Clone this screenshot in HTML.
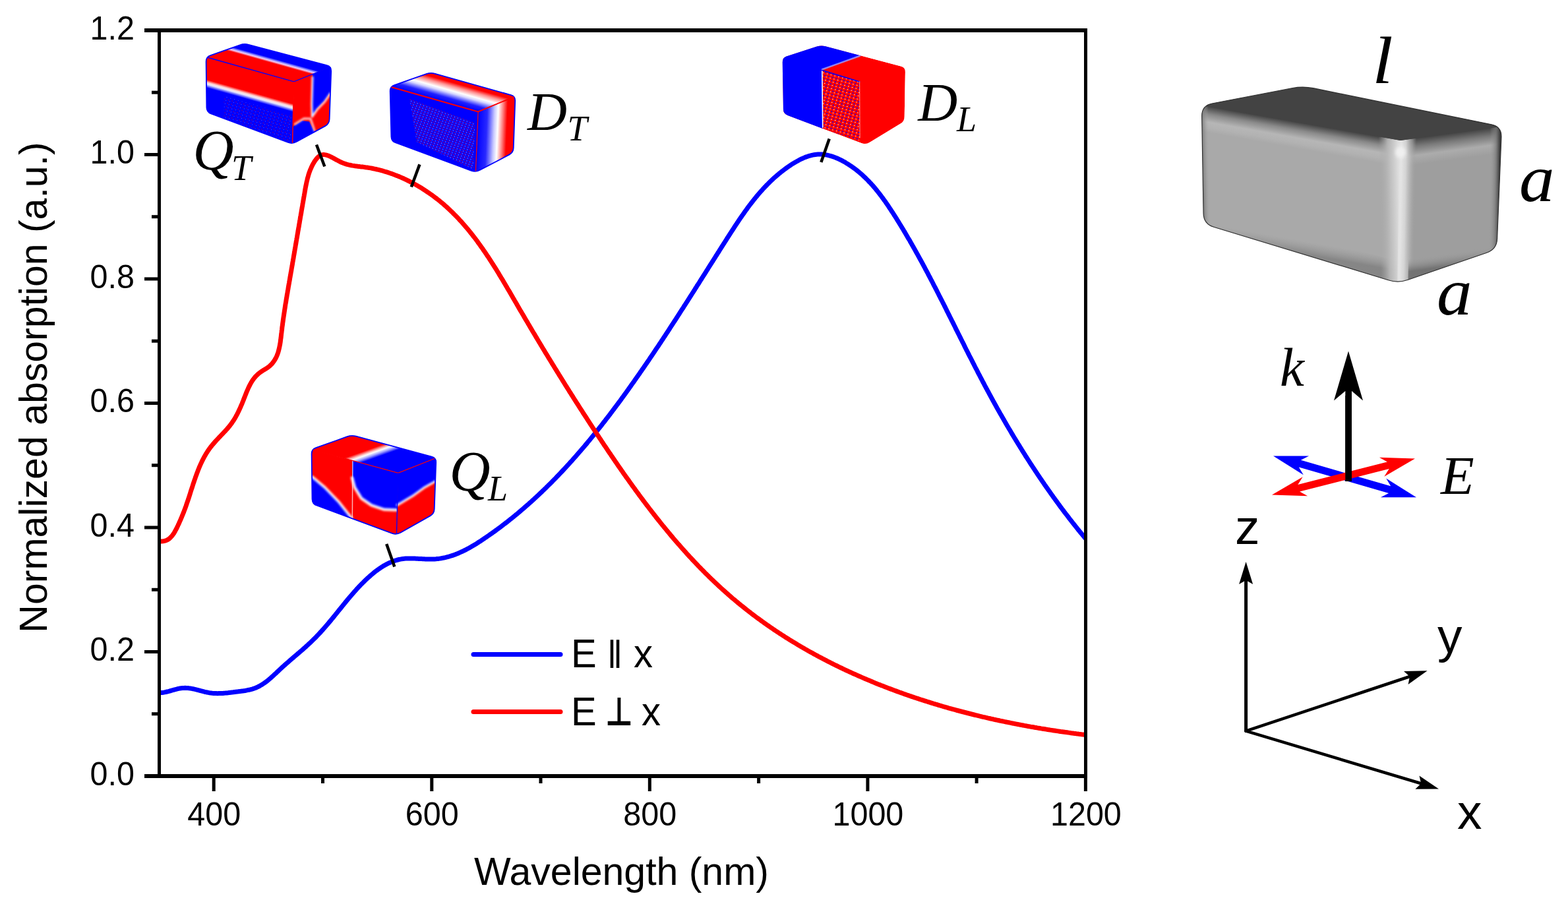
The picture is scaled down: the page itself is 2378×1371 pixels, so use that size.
<!DOCTYPE html>
<html><head><meta charset="utf-8"><title>Absorption spectra</title>
<style>html,body{margin:0;padding:0;background:#fff;width:2378px;height:1371px;overflow:hidden}svg{display:block}</style>
</head><body>
<svg width="2378" height="1371" viewBox="0 0 2378 1371">
<rect width="2378" height="1371" fill="#fff"/>
<defs>
<pattern id="spR" width="6" height="5" patternUnits="userSpaceOnUse" patternTransform="rotate(15)">
<rect width="6" height="5" fill="#f00"/><rect x="1" y="1" width="2" height="1.5" fill="#00f"/><rect x="4" y="3" width="1.5" height="1" fill="#fff"/></pattern>
<pattern id="spB" width="6" height="5" patternUnits="userSpaceOnUse" patternTransform="rotate(15)">
<rect width="6" height="5" fill="#00f"/><rect x="1" y="1" width="2" height="1.5" fill="#f00"/><rect x="4" y="3" width="1" height="1" fill="#fff"/></pattern>
<pattern id="spB3" width="5" height="4" patternUnits="userSpaceOnUse" patternTransform="rotate(20)">
<rect width="5" height="4" fill="#00f"/><rect x="0.5" y="0.5" width="2" height="1.2" fill="#f00"/><rect x="3" y="2.5" width="1.2" height="1" fill="#fff"/></pattern>
<pattern id="spB2" width="7" height="6" patternUnits="userSpaceOnUse" patternTransform="rotate(15)">
<rect width="7" height="6" fill="#00f"/><rect x="2" y="2" width="1" height="1" fill="#fff"/></pattern>
</defs>
<path d="M241.6,1050.6 L243.6,1050.6 L245.6,1050.4 L247.6,1050.2 L249.6,1049.9 L251.5,1049.5 L253.5,1049.0 L255.4,1048.6 L257.4,1048.0 L259.3,1047.5 L261.2,1046.9 L263.1,1046.4 L265.0,1045.8 L267.0,1045.3 L268.9,1044.8 L270.9,1044.4 L272.8,1044.0 L274.8,1043.7 L276.8,1043.5 L278.8,1043.4 L280.8,1043.3 L282.8,1043.4 L284.8,1043.5 L286.8,1043.8 L288.7,1044.0 L290.7,1044.4 L292.7,1044.8 L294.6,1045.2 L296.6,1045.6 L298.5,1046.1 L300.4,1046.6 L302.4,1047.1 L304.3,1047.7 L306.2,1048.2 L308.2,1048.7 L310.1,1049.2 L312.1,1049.6 L314.0,1050.0 L316.0,1050.4 L317.9,1050.8 L319.9,1051.1 L321.9,1051.3 L323.9,1051.4 L325.9,1051.6 L327.9,1051.6 L329.9,1051.7 L331.9,1051.6 L333.9,1051.6 L335.9,1051.5 L337.9,1051.4 L339.9,1051.2 L341.9,1051.1 L343.8,1050.9 L345.8,1050.7 L347.8,1050.4 L349.8,1050.2 L351.8,1050.0 L353.8,1049.8 L355.8,1049.5 L357.7,1049.3 L359.7,1049.1 L361.7,1048.8 L363.7,1048.6 L365.7,1048.3 L367.7,1048.1 L369.6,1047.8 L371.6,1047.5 L373.6,1047.1 L375.5,1046.7 L377.5,1046.3 L379.4,1045.8 L381.4,1045.3 L383.3,1044.8 L385.2,1044.1 L387.1,1043.5 L388.9,1042.7 L390.7,1041.9 L392.5,1041.0 L394.3,1040.1 L396.0,1039.1 L397.7,1038.0 L399.4,1036.9 L401.1,1035.8 L402.7,1034.6 L404.3,1033.4 L405.8,1032.2 L407.4,1030.9 L408.9,1029.6 L410.4,1028.3 L411.9,1027.0 L413.4,1025.6 L414.9,1024.3 L416.3,1022.9 L417.8,1021.6 L419.3,1020.2 L420.7,1018.8 L422.2,1017.5 L423.6,1016.1 L425.1,1014.7 L426.6,1013.4 L428.0,1012.0 L429.5,1010.7 L431.0,1009.3 L432.5,1008.0 L434.0,1006.7 L435.5,1005.4 L437.0,1004.1 L438.5,1002.7 L440.0,1001.4 L441.5,1000.1 L443.0,998.8 L444.6,997.5 L446.1,996.2 L447.6,994.9 L449.1,993.6 L450.6,992.3 L452.1,991.0 L453.7,989.7 L455.2,988.4 L456.7,987.1 L458.2,985.8 L459.7,984.5 L461.2,983.1 L462.7,981.8 L464.2,980.5 L465.6,979.1 L467.1,977.8 L468.6,976.4 L470.1,975.1 L471.5,973.7 L473.0,972.3 L474.4,970.9 L475.8,969.5 L477.2,968.1 L478.7,966.7 L480.1,965.3 L481.4,963.8 L482.8,962.4 L484.2,960.9 L485.5,959.5 L486.9,958.0 L488.2,956.5 L489.6,955.0 L490.9,953.5 L492.2,952.0 L493.5,950.5 L494.8,949.0 L496.1,947.5 L497.4,946.0 L498.7,944.4 L500.0,942.9 L501.3,941.4 L502.5,939.8 L503.8,938.3 L505.1,936.7 L506.3,935.2 L507.6,933.6 L508.8,932.1 L510.1,930.5 L511.4,929.0 L512.6,927.4 L513.9,925.8 L515.1,924.3 L516.4,922.7 L517.6,921.2 L518.9,919.6 L520.1,918.1 L521.4,916.5 L522.7,915.0 L523.9,913.4 L525.2,911.9 L526.5,910.3 L527.7,908.8 L529.0,907.3 L530.3,905.7 L531.6,904.2 L532.9,902.7 L534.2,901.2 L535.5,899.7 L536.8,898.2 L538.2,896.7 L539.5,895.2 L540.8,893.7 L542.2,892.2 L543.5,890.7 L544.9,889.3 L546.3,887.8 L547.7,886.4 L549.1,885.0 L550.5,883.6 L551.9,882.2 L553.3,880.8 L554.8,879.4 L556.2,878.0 L557.7,876.6 L559.2,875.3 L560.7,874.0 L562.2,872.7 L563.7,871.4 L565.2,870.1 L566.8,868.8 L568.3,867.6 L569.9,866.3 L571.5,865.1 L573.1,864.0 L574.7,862.8 L576.4,861.7 L578.1,860.5 L579.7,859.5 L581.4,858.4 L583.2,857.4 L584.9,856.4 L586.7,855.5 L588.4,854.6 L590.2,853.7 L592.1,852.9 L593.9,852.1 L595.8,851.4 L597.7,850.7 L599.6,850.1 L601.5,849.5 L603.4,849.0 L605.3,848.5 L607.3,848.1 L609.3,847.8 L611.2,847.5 L613.2,847.3 L615.2,847.1 L617.2,847.0 L619.2,846.9 L621.2,846.9 L623.2,846.9 L625.2,847.0 L627.2,847.0 L629.2,847.1 L631.2,847.2 L633.2,847.3 L635.2,847.4 L637.2,847.5 L639.2,847.6 L641.2,847.7 L643.2,847.8 L645.2,847.9 L647.2,848.0 L649.2,848.1 L651.2,848.1 L653.2,848.1 L655.2,848.1 L657.2,848.0 L659.2,847.9 L661.2,847.8 L663.1,847.6 L665.1,847.4 L667.1,847.1 L669.1,846.8 L671.1,846.4 L673.0,846.0 L675.0,845.6 L676.9,845.1 L678.8,844.6 L680.8,844.1 L682.7,843.5 L684.6,842.9 L686.5,842.3 L688.4,841.7 L690.3,841.0 L692.1,840.2 L694.0,839.5 L695.8,838.7 L697.6,837.9 L699.5,837.1 L701.3,836.3 L703.1,835.4 L704.9,834.5 L706.7,833.6 L708.4,832.7 L710.2,831.7 L711.9,830.8 L713.7,829.8 L715.4,828.8 L717.1,827.8 L718.9,826.7 L720.6,825.7 L722.3,824.7 L724.0,823.6 L725.6,822.5 L727.3,821.4 L729.0,820.4 L730.7,819.3 L732.3,818.1 L734.0,817.0 L735.6,815.9 L737.3,814.8 L738.9,813.7 L740.6,812.5 L742.2,811.4 L743.9,810.2 L745.5,809.1 L747.1,807.9 L748.8,806.8 L750.4,805.6 L752.0,804.4 L753.6,803.2 L755.2,802.0 L756.8,800.9 L758.4,799.7 L760.0,798.5 L761.6,797.3 L763.2,796.0 L764.8,794.8 L766.4,793.6 L768.0,792.4 L769.5,791.2 L771.1,789.9 L772.7,788.7 L774.2,787.4 L775.8,786.2 L777.4,784.9 L778.9,783.7 L780.5,782.4 L782.0,781.1 L783.5,779.9 L785.1,778.6 L786.6,777.3 L788.1,776.0 L789.7,774.7 L791.2,773.4 L792.7,772.1 L794.2,770.8 L795.7,769.5 L797.2,768.2 L798.7,766.9 L800.2,765.6 L801.7,764.3 L803.2,762.9 L804.7,761.6 L806.2,760.3 L807.7,758.9 L809.2,757.6 L810.6,756.2 L812.1,754.9 L813.6,753.5 L815.0,752.1 L816.5,750.8 L818.0,749.4 L819.4,748.0 L820.9,746.7 L822.3,745.3 L823.7,743.9 L825.2,742.5 L826.6,741.1 L828.1,739.7 L829.5,738.3 L830.9,736.9 L832.3,735.5 L833.7,734.1 L835.2,732.7 L836.6,731.3 L838.0,729.8 L839.4,728.4 L840.8,727.0 L842.2,725.6 L843.6,724.1 L844.9,722.7 L846.3,721.3 L847.7,719.8 L849.1,718.4 L850.5,716.9 L851.8,715.5 L853.2,714.0 L854.6,712.5 L855.9,711.1 L857.3,709.6 L858.7,708.1 L860.0,706.7 L861.4,705.2 L862.7,703.7 L864.0,702.2 L865.4,700.8 L866.7,699.3 L868.1,697.8 L869.4,696.3 L870.7,694.8 L872.0,693.3 L873.4,691.8 L874.7,690.3 L876.0,688.8 L877.3,687.3 L878.6,685.8 L879.9,684.3 L881.2,682.7 L882.5,681.2 L883.8,679.7 L885.1,678.2 L886.4,676.7 L887.7,675.1 L889.0,673.6 L890.3,672.1 L891.5,670.5 L892.8,669.0 L894.1,667.5 L895.4,665.9 L896.6,664.4 L897.9,662.8 L899.2,661.3 L900.4,659.7 L901.7,658.2 L902.9,656.6 L904.2,655.1 L905.4,653.5 L906.7,651.9 L907.9,650.4 L909.2,648.8 L910.4,647.2 L911.7,645.7 L912.9,644.1 L914.1,642.5 L915.3,640.9 L916.6,639.4 L917.8,637.8 L919.0,636.2 L920.2,634.6 L921.5,633.0 L922.7,631.5 L923.9,629.9 L925.1,628.3 L926.3,626.7 L927.5,625.1 L928.7,623.5 L929.9,621.9 L931.1,620.3 L932.3,618.7 L933.5,617.1 L934.7,615.5 L935.9,613.9 L937.1,612.3 L938.3,610.7 L939.5,609.1 L940.7,607.5 L941.8,605.9 L943.0,604.2 L944.2,602.6 L945.4,601.0 L946.5,599.4 L947.7,597.8 L948.9,596.2 L950.1,594.5 L951.2,592.9 L952.4,591.3 L953.6,589.7 L954.7,588.0 L955.9,586.4 L957.0,584.8 L958.2,583.1 L959.3,581.5 L960.5,579.9 L961.7,578.2 L962.8,576.6 L963.9,575.0 L965.1,573.3 L966.2,571.7 L967.4,570.1 L968.5,568.4 L969.7,566.8 L970.8,565.1 L971.9,563.5 L973.1,561.9 L974.2,560.2 L975.4,558.6 L976.5,556.9 L977.6,555.3 L978.7,553.6 L979.9,552.0 L981.0,550.3 L982.1,548.7 L983.3,547.0 L984.4,545.4 L985.5,543.7 L986.6,542.1 L987.7,540.4 L988.9,538.7 L990.0,537.1 L991.1,535.4 L992.2,533.8 L993.3,532.1 L994.4,530.4 L995.5,528.8 L996.6,527.1 L997.8,525.5 L998.9,523.8 L1000.0,522.1 L1001.1,520.5 L1002.2,518.8 L1003.3,517.1 L1004.4,515.5 L1005.5,513.8 L1006.6,512.1 L1007.7,510.5 L1008.8,508.8 L1009.9,507.1 L1011.0,505.4 L1012.1,503.8 L1013.2,502.1 L1014.3,500.4 L1015.4,498.8 L1016.4,497.1 L1017.5,495.4 L1018.6,493.7 L1019.7,492.1 L1020.8,490.4 L1021.9,488.7 L1023.0,487.0 L1024.1,485.3 L1025.2,483.7 L1026.2,482.0 L1027.3,480.3 L1028.4,478.6 L1029.5,476.9 L1030.6,475.3 L1031.6,473.6 L1032.7,471.9 L1033.8,470.2 L1034.9,468.5 L1036.0,466.9 L1037.0,465.2 L1038.1,463.5 L1039.2,461.8 L1040.3,460.1 L1041.4,458.4 L1042.4,456.8 L1043.5,455.1 L1044.6,453.4 L1045.7,451.7 L1046.7,450.0 L1047.8,448.3 L1048.9,446.6 L1049.9,445.0 L1051.0,443.3 L1052.1,441.6 L1053.2,439.9 L1054.2,438.2 L1055.3,436.5 L1056.4,434.8 L1057.4,433.1 L1058.5,431.5 L1059.6,429.8 L1060.7,428.1 L1061.7,426.4 L1062.8,424.7 L1063.9,423.0 L1064.9,421.3 L1066.0,419.6 L1067.1,417.9 L1068.1,416.3 L1069.2,414.6 L1070.3,412.9 L1071.3,411.2 L1072.4,409.5 L1073.5,407.8 L1074.5,406.1 L1075.6,404.4 L1076.7,402.7 L1077.7,401.0 L1078.8,399.4 L1079.9,397.7 L1081.0,396.0 L1082.0,394.3 L1083.1,392.6 L1084.2,390.9 L1085.2,389.2 L1086.3,387.5 L1087.4,385.8 L1088.4,384.2 L1089.5,382.5 L1090.6,380.8 L1091.6,379.1 L1092.7,377.4 L1093.8,375.7 L1094.8,374.0 L1095.9,372.3 L1097.0,370.6 L1098.1,369.0 L1099.1,367.3 L1100.2,365.6 L1101.3,363.9 L1102.3,362.2 L1103.4,360.5 L1104.5,358.8 L1105.6,357.2 L1106.6,355.5 L1107.7,353.8 L1108.8,352.1 L1109.9,350.4 L1111.0,348.8 L1112.1,347.1 L1113.2,345.4 L1114.3,343.7 L1115.3,342.1 L1116.4,340.4 L1117.6,338.7 L1118.7,337.1 L1119.8,335.4 L1120.9,333.7 L1122.0,332.1 L1123.1,330.4 L1124.3,328.8 L1125.4,327.1 L1126.6,325.5 L1127.7,323.9 L1128.9,322.2 L1130.0,320.6 L1131.2,319.0 L1132.4,317.4 L1133.5,315.8 L1134.7,314.1 L1135.9,312.5 L1137.1,310.9 L1138.3,309.4 L1139.5,307.8 L1140.8,306.2 L1142.0,304.6 L1143.2,303.1 L1144.5,301.5 L1145.8,299.9 L1147.0,298.4 L1148.3,296.9 L1149.6,295.3 L1150.9,293.8 L1152.2,292.3 L1153.5,290.8 L1154.8,289.3 L1156.2,287.8 L1157.5,286.3 L1158.9,284.9 L1160.2,283.4 L1161.6,282.0 L1163.0,280.5 L1164.4,279.1 L1165.8,277.7 L1167.2,276.3 L1168.7,274.9 L1170.1,273.5 L1171.6,272.1 L1173.0,270.8 L1174.5,269.4 L1176.0,268.1 L1177.5,266.8 L1179.0,265.5 L1180.6,264.2 L1182.1,262.9 L1183.7,261.7 L1185.2,260.4 L1186.8,259.2 L1188.4,258.0 L1190.0,256.8 L1191.6,255.6 L1193.2,254.4 L1194.9,253.3 L1196.5,252.1 L1198.2,251.0 L1199.8,249.9 L1201.5,248.8 L1203.2,247.8 L1204.9,246.7 L1206.6,245.7 L1208.4,244.7 L1210.1,243.8 L1211.9,242.8 L1213.6,241.9 L1215.4,241.0 L1217.3,240.2 L1219.1,239.4 L1220.9,238.6 L1222.8,237.9 L1224.7,237.3 L1226.6,236.6 L1228.5,236.1 L1230.4,235.6 L1232.4,235.1 L1234.4,234.8 L1236.3,234.5 L1238.3,234.2 L1240.3,234.1 L1242.3,234.0 L1244.3,234.0 L1246.3,234.1 L1248.3,234.2 L1250.3,234.5 L1252.3,234.8 L1254.2,235.1 L1256.2,235.6 L1258.1,236.1 L1260.0,236.6 L1261.9,237.2 L1263.8,237.8 L1265.7,238.5 L1267.6,239.2 L1269.4,240.0 L1271.3,240.8 L1273.1,241.7 L1274.9,242.5 L1276.6,243.4 L1278.4,244.4 L1280.2,245.3 L1281.9,246.3 L1283.6,247.4 L1285.3,248.4 L1287.0,249.5 L1288.7,250.6 L1290.3,251.7 L1292.0,252.8 L1293.6,254.0 L1295.2,255.1 L1296.8,256.3 L1298.4,257.5 L1300.0,258.8 L1301.5,260.0 L1303.1,261.3 L1304.6,262.6 L1306.1,263.9 L1307.6,265.2 L1309.1,266.6 L1310.5,268.0 L1312.0,269.3 L1313.4,270.7 L1314.8,272.1 L1316.3,273.6 L1317.6,275.0 L1319.0,276.5 L1320.4,277.9 L1321.7,279.4 L1323.1,280.9 L1324.4,282.4 L1325.7,283.9 L1327.0,285.4 L1328.3,287.0 L1329.5,288.5 L1330.8,290.1 L1332.0,291.6 L1333.3,293.2 L1334.5,294.8 L1335.7,296.4 L1336.9,298.0 L1338.1,299.6 L1339.3,301.2 L1340.4,302.8 L1341.6,304.4 L1342.8,306.0 L1343.9,307.7 L1345.0,309.3 L1346.2,311.0 L1347.3,312.6 L1348.4,314.3 L1349.5,316.0 L1350.6,317.6 L1351.7,319.3 L1352.8,321.0 L1353.9,322.6 L1355.0,324.3 L1356.0,326.0 L1357.1,327.7 L1358.2,329.4 L1359.3,331.1 L1360.3,332.8 L1361.4,334.5 L1362.4,336.2 L1363.5,337.9 L1364.5,339.6 L1365.6,341.3 L1366.6,343.0 L1367.6,344.7 L1368.7,346.4 L1369.7,348.1 L1370.7,349.8 L1371.8,351.5 L1372.8,353.3 L1373.8,355.0 L1374.8,356.7 L1375.8,358.4 L1376.8,360.2 L1377.8,361.9 L1378.9,363.6 L1379.9,365.3 L1380.8,367.1 L1381.8,368.8 L1382.8,370.5 L1383.8,372.3 L1384.8,374.0 L1385.8,375.8 L1386.8,377.5 L1387.8,379.2 L1388.7,381.0 L1389.7,382.7 L1390.7,384.5 L1391.7,386.2 L1392.6,388.0 L1393.6,389.7 L1394.5,391.5 L1395.5,393.2 L1396.5,395.0 L1397.4,396.7 L1398.4,398.5 L1399.3,400.2 L1400.3,402.0 L1401.2,403.8 L1402.2,405.5 L1403.1,407.3 L1404.0,409.1 L1405.0,410.8 L1405.9,412.6 L1406.9,414.3 L1407.8,416.1 L1408.7,417.9 L1409.7,419.7 L1410.6,421.4 L1411.5,423.2 L1412.4,425.0 L1413.4,426.7 L1414.3,428.5 L1415.2,430.3 L1416.1,432.1 L1417.0,433.8 L1418.0,435.6 L1418.9,437.4 L1419.8,439.2 L1420.7,440.9 L1421.6,442.7 L1422.5,444.5 L1423.4,446.3 L1424.3,448.1 L1425.2,449.8 L1426.1,451.6 L1427.0,453.4 L1428.0,455.2 L1428.9,457.0 L1429.8,458.8 L1430.7,460.5 L1431.6,462.3 L1432.5,464.1 L1433.4,465.9 L1434.3,467.7 L1435.2,469.5 L1436.0,471.3 L1436.9,473.0 L1437.8,474.8 L1438.7,476.6 L1439.6,478.4 L1440.5,480.2 L1441.4,482.0 L1442.3,483.8 L1443.2,485.6 L1444.1,487.3 L1445.0,489.1 L1445.9,490.9 L1446.8,492.7 L1447.7,494.5 L1448.6,496.3 L1449.4,498.1 L1450.3,499.9 L1451.2,501.7 L1452.1,503.4 L1453.0,505.2 L1453.9,507.0 L1454.8,508.8 L1455.7,510.6 L1456.6,512.4 L1457.5,514.2 L1458.4,516.0 L1459.3,517.8 L1460.2,519.5 L1461.1,521.3 L1462.0,523.1 L1462.8,524.9 L1463.7,526.7 L1464.6,528.5 L1465.5,530.3 L1466.4,532.0 L1467.3,533.8 L1468.2,535.6 L1469.1,537.4 L1470.0,539.2 L1470.9,541.0 L1471.9,542.7 L1472.8,544.5 L1473.7,546.3 L1474.6,548.1 L1475.5,549.9 L1476.4,551.7 L1477.3,553.4 L1478.2,555.2 L1479.1,557.0 L1480.0,558.8 L1481.0,560.5 L1481.9,562.3 L1482.8,564.1 L1483.7,565.9 L1484.6,567.6 L1485.6,569.4 L1486.5,571.2 L1487.4,573.0 L1488.3,574.7 L1489.3,576.5 L1490.2,578.3 L1491.1,580.0 L1492.1,581.8 L1493.0,583.6 L1493.9,585.3 L1494.9,587.1 L1495.8,588.9 L1496.8,590.6 L1497.7,592.4 L1498.7,594.1 L1499.6,595.9 L1500.6,597.7 L1501.5,599.4 L1502.5,601.2 L1503.4,602.9 L1504.4,604.7 L1505.3,606.4 L1506.3,608.2 L1507.3,609.9 L1508.2,611.7 L1509.2,613.4 L1510.2,615.2 L1511.1,616.9 L1512.1,618.7 L1513.1,620.4 L1514.1,622.2 L1515.1,623.9 L1516.0,625.6 L1517.0,627.4 L1518.0,629.1 L1519.0,630.8 L1520.0,632.6 L1521.0,634.3 L1522.0,636.0 L1523.0,637.8 L1524.0,639.5 L1525.0,641.2 L1526.0,643.0 L1527.0,644.7 L1528.0,646.4 L1529.0,648.1 L1530.0,649.9 L1531.1,651.6 L1532.1,653.3 L1533.1,655.0 L1534.1,656.7 L1535.1,658.5 L1536.2,660.2 L1537.2,661.9 L1538.2,663.6 L1539.3,665.3 L1540.3,667.0 L1541.3,668.7 L1542.4,670.4 L1543.4,672.1 L1544.5,673.8 L1545.5,675.5 L1546.6,677.2 L1547.6,678.9 L1548.7,680.6 L1549.7,682.3 L1550.8,684.0 L1551.8,685.7 L1552.9,687.4 L1554.0,689.1 L1555.0,690.8 L1556.1,692.5 L1557.2,694.2 L1558.3,695.9 L1559.3,697.5 L1560.4,699.2 L1561.5,700.9 L1562.6,702.6 L1563.7,704.3 L1564.8,705.9 L1565.9,707.6 L1567.0,709.3 L1568.1,710.9 L1569.2,712.6 L1570.3,714.3 L1571.4,715.9 L1572.5,717.6 L1573.6,719.3 L1574.7,720.9 L1575.8,722.6 L1576.9,724.2 L1578.1,725.9 L1579.2,727.6 L1580.3,729.2 L1581.4,730.9 L1582.6,732.5 L1583.7,734.2 L1584.8,735.8 L1586.0,737.4 L1587.1,739.1 L1588.3,740.7 L1589.4,742.4 L1590.6,744.0 L1591.7,745.6 L1592.9,747.3 L1594.0,748.9 L1595.2,750.5 L1596.3,752.1 L1597.5,753.8 L1598.7,755.4 L1599.9,757.0 L1601.0,758.6 L1602.2,760.2 L1603.4,761.8 L1604.6,763.5 L1605.8,765.1 L1606.9,766.7 L1608.1,768.3 L1609.3,769.9 L1610.5,771.5 L1611.7,773.1 L1612.9,774.7 L1614.1,776.3 L1615.3,777.9 L1616.5,779.5 L1617.8,781.0 L1619.0,782.6 L1620.2,784.2 L1621.4,785.8 L1622.6,787.4 L1623.9,789.0 L1625.1,790.5 L1626.3,792.1 L1627.6,793.7 L1628.8,795.2 L1630.0,796.8 L1631.3,798.4 L1632.5,799.9 L1633.8,801.5 L1635.0,803.1 L1636.3,804.6 L1637.6,806.2 L1638.8,807.7 L1640.1,809.3 L1641.4,810.8 L1642.6,812.3 L1643.9,813.9 L1645.2,815.4 L1646.5,817.0" fill="none" stroke="#00f" stroke-width="7" stroke-linejoin="round"/>
<path d="M241.5,820.7 L243.5,820.9 L245.5,820.9 L247.5,820.8 L249.5,820.4 L251.4,819.9 L253.2,819.1 L255.0,818.1 L256.6,817.0 L258.1,815.7 L259.5,814.2 L260.8,812.7 L262.1,811.1 L263.2,809.5 L264.3,807.8 L265.3,806.1 L266.2,804.3 L267.2,802.6 L268.1,800.8 L268.9,799.0 L269.8,797.2 L270.6,795.4 L271.5,793.5 L272.3,791.7 L273.1,789.9 L273.9,788.1 L274.7,786.2 L275.5,784.4 L276.2,782.5 L277.0,780.7 L277.7,778.8 L278.5,777.0 L279.2,775.1 L279.9,773.2 L280.6,771.4 L281.3,769.5 L282.0,767.6 L282.6,765.7 L283.3,763.8 L283.9,761.9 L284.6,760.1 L285.2,758.2 L285.9,756.3 L286.5,754.4 L287.1,752.5 L287.7,750.6 L288.3,748.7 L288.9,746.8 L289.5,744.8 L290.1,742.9 L290.8,741.0 L291.4,739.1 L292.0,737.2 L292.6,735.3 L293.2,733.4 L293.9,731.5 L294.5,729.6 L295.1,727.7 L295.8,725.9 L296.4,724.0 L297.1,722.1 L297.8,720.2 L298.5,718.3 L299.2,716.5 L299.9,714.6 L300.6,712.7 L301.4,710.9 L302.1,709.0 L302.9,707.2 L303.7,705.4 L304.5,703.5 L305.4,701.7 L306.2,699.9 L307.1,698.1 L308.0,696.3 L308.9,694.6 L309.9,692.8 L310.9,691.1 L311.9,689.3 L312.9,687.6 L314.0,685.9 L315.0,684.2 L316.2,682.6 L317.3,680.9 L318.5,679.3 L319.7,677.7 L320.9,676.2 L322.2,674.6 L323.5,673.1 L324.8,671.6 L326.1,670.1 L327.4,668.6 L328.8,667.1 L330.2,665.7 L331.5,664.2 L332.9,662.8 L334.3,661.3 L335.7,659.9 L337.1,658.4 L338.5,657.0 L339.8,655.5 L341.2,654.1 L342.5,652.6 L343.9,651.1 L345.2,649.6 L346.5,648.1 L347.8,646.5 L349.0,645.0 L350.2,643.4 L351.4,641.8 L352.5,640.1 L353.6,638.5 L354.7,636.8 L355.8,635.1 L356.8,633.4 L357.8,631.6 L358.7,629.9 L359.7,628.1 L360.6,626.3 L361.5,624.5 L362.3,622.7 L363.2,620.9 L364.0,619.1 L364.8,617.3 L365.6,615.4 L366.4,613.6 L367.2,611.8 L367.9,609.9 L368.7,608.1 L369.4,606.2 L370.1,604.3 L370.9,602.5 L371.6,600.6 L372.3,598.8 L373.1,596.9 L373.8,595.0 L374.6,593.2 L375.4,591.4 L376.2,589.5 L377.0,587.7 L377.9,585.9 L378.8,584.1 L379.7,582.4 L380.7,580.6 L381.7,578.9 L382.8,577.2 L383.9,575.6 L385.1,574.0 L386.4,572.4 L387.7,570.9 L389.1,569.5 L390.5,568.1 L392.0,566.7 L393.6,565.5 L395.2,564.3 L396.8,563.2 L398.5,562.1 L400.2,561.1 L401.9,560.0 L403.6,559.0 L405.3,557.9 L406.9,556.7 L408.5,555.5 L410.0,554.1 L411.4,552.7 L412.8,551.3 L414.0,549.7 L415.2,548.1 L416.3,546.5 L417.4,544.7 L418.3,543.0 L419.2,541.2 L420.0,539.4 L420.7,537.5 L421.4,535.6 L422.0,533.7 L422.5,531.8 L423.0,529.8 L423.5,527.9 L423.9,525.9 L424.3,524.0 L424.7,522.0 L425.0,520.0 L425.3,518.1 L425.5,516.1 L425.8,514.1 L426.1,512.1 L426.3,510.1 L426.5,508.1 L426.7,506.2 L427.0,504.2 L427.2,502.2 L427.5,500.2 L427.7,498.2 L427.9,496.2 L428.2,494.3 L428.5,492.3 L428.7,490.3 L429.0,488.3 L429.3,486.3 L429.5,484.4 L429.8,482.4 L430.1,480.4 L430.4,478.4 L430.7,476.4 L431.0,474.5 L431.3,472.5 L431.6,470.5 L431.9,468.5 L432.2,466.6 L432.5,464.6 L432.8,462.6 L433.1,460.6 L433.5,458.7 L433.8,456.7 L434.1,454.7 L434.4,452.7 L434.8,450.8 L435.1,448.8 L435.4,446.8 L435.8,444.9 L436.1,442.9 L436.4,440.9 L436.8,438.9 L437.1,437.0 L437.4,435.0 L437.8,433.0 L438.1,431.1 L438.5,429.1 L438.8,427.1 L439.2,425.2 L439.5,423.2 L439.8,421.2 L440.2,419.2 L440.5,417.3 L440.9,415.3 L441.2,413.3 L441.6,411.4 L441.9,409.4 L442.2,407.4 L442.6,405.5 L442.9,403.5 L443.3,401.5 L443.6,399.6 L443.9,397.6 L444.3,395.6 L444.6,393.6 L445.0,391.7 L445.3,389.7 L445.6,387.7 L446.0,385.8 L446.3,383.8 L446.7,381.8 L447.0,379.8 L447.3,377.9 L447.7,375.9 L448.0,373.9 L448.3,372.0 L448.7,370.0 L449.0,368.0 L449.3,366.1 L449.7,364.1 L450.0,362.1 L450.4,360.1 L450.7,358.2 L451.0,356.2 L451.4,354.2 L451.7,352.3 L452.0,350.3 L452.4,348.3 L452.7,346.3 L453.1,344.4 L453.4,342.4 L453.7,340.4 L454.1,338.5 L454.4,336.5 L454.7,334.5 L455.1,332.6 L455.4,330.6 L455.7,328.6 L456.1,326.6 L456.4,324.7 L456.8,322.7 L457.1,320.7 L457.4,318.8 L457.8,316.8 L458.1,314.8 L458.5,312.9 L458.8,310.9 L459.1,308.9 L459.5,306.9 L459.8,305.0 L460.2,303.0 L460.5,301.0 L460.8,299.1 L461.2,297.1 L461.5,295.1 L461.9,293.2 L462.2,291.2 L462.5,289.2 L462.9,287.2 L463.2,285.3 L463.6,283.3 L464.0,281.3 L464.4,279.4 L464.8,277.4 L465.2,275.5 L465.7,273.5 L466.1,271.6 L466.6,269.7 L467.2,267.7 L467.7,265.8 L468.3,263.9 L468.9,262.0 L469.6,260.1 L470.3,258.2 L471.1,256.4 L471.9,254.6 L472.7,252.7 L473.6,250.9 L474.5,249.2 L475.5,247.4 L476.5,245.7 L477.6,244.0 L478.8,242.4 L480.0,240.8 L481.3,239.3 L482.7,237.9 L484.3,236.6 L486.0,235.6 L487.8,234.9 L489.8,234.6 L491.8,234.6 L493.8,234.9 L495.7,235.4 L497.6,236.0 L499.5,236.8 L501.3,237.6 L503.1,238.5 L504.8,239.4 L506.6,240.4 L508.4,241.4 L510.1,242.3 L511.9,243.3 L513.6,244.2 L515.4,245.1 L517.2,246.0 L519.0,246.8 L520.9,247.5 L522.8,248.2 L524.7,248.8 L526.6,249.4 L528.5,249.9 L530.5,250.3 L532.5,250.7 L534.4,251.1 L536.4,251.4 L538.4,251.7 L540.4,251.9 L542.3,252.2 L544.3,252.4 L546.3,252.7 L548.3,252.9 L550.3,253.1 L552.3,253.4 L554.2,253.7 L556.2,253.9 L558.2,254.3 L560.2,254.6 L562.1,254.9 L564.1,255.3 L566.1,255.7 L568.0,256.1 L570.0,256.5 L571.9,257.0 L573.9,257.4 L575.8,257.9 L577.7,258.4 L579.7,258.9 L581.6,259.5 L583.5,260.1 L585.4,260.6 L587.3,261.2 L589.2,261.8 L591.1,262.5 L593.0,263.1 L594.9,263.8 L596.8,264.5 L598.7,265.2 L600.5,265.9 L602.4,266.6 L604.2,267.4 L606.1,268.1 L607.9,268.9 L609.7,269.7 L611.6,270.5 L613.4,271.4 L615.2,272.2 L617.0,273.1 L618.8,274.0 L620.6,274.9 L622.4,275.8 L624.1,276.7 L625.9,277.6 L627.7,278.6 L629.4,279.5 L631.2,280.5 L632.9,281.5 L634.6,282.5 L636.3,283.5 L638.1,284.6 L639.8,285.6 L641.5,286.7 L643.1,287.8 L644.8,288.9 L646.5,290.0 L648.1,291.1 L649.8,292.2 L651.4,293.3 L653.1,294.5 L654.7,295.6 L656.3,296.8 L657.9,298.0 L659.5,299.2 L661.1,300.4 L662.7,301.6 L664.3,302.9 L665.8,304.1 L667.4,305.4 L668.9,306.7 L670.5,307.9 L672.0,309.2 L673.5,310.5 L675.0,311.9 L676.5,313.2 L678.0,314.5 L679.5,315.9 L680.9,317.2 L682.4,318.6 L683.8,320.0 L685.3,321.4 L686.7,322.8 L688.1,324.2 L689.5,325.6 L690.9,327.0 L692.3,328.4 L693.7,329.9 L695.1,331.3 L696.4,332.8 L697.8,334.3 L699.1,335.7 L700.5,337.2 L701.8,338.7 L703.1,340.2 L704.4,341.7 L705.7,343.2 L707.0,344.8 L708.3,346.3 L709.6,347.8 L710.9,349.4 L712.1,350.9 L713.4,352.5 L714.6,354.0 L715.9,355.6 L717.1,357.2 L718.3,358.8 L719.6,360.4 L720.8,361.9 L722.0,363.5 L723.2,365.1 L724.4,366.8 L725.5,368.4 L726.7,370.0 L727.9,371.6 L729.0,373.2 L730.2,374.9 L731.4,376.5 L732.5,378.1 L733.6,379.8 L734.8,381.4 L735.9,383.1 L737.0,384.7 L738.1,386.4 L739.2,388.1 L740.4,389.7 L741.5,391.4 L742.5,393.1 L743.6,394.7 L744.7,396.4 L745.8,398.1 L746.9,399.8 L748.0,401.5 L749.0,403.2 L750.1,404.8 L751.2,406.5 L752.2,408.2 L753.3,409.9 L754.3,411.6 L755.4,413.3 L756.4,415.0 L757.4,416.8 L758.5,418.5 L759.5,420.2 L760.5,421.9 L761.6,423.6 L762.6,425.3 L763.6,427.0 L764.6,428.7 L765.7,430.5 L766.7,432.2 L767.7,433.9 L768.7,435.6 L769.7,437.4 L770.7,439.1 L771.8,440.8 L772.8,442.5 L773.8,444.3 L774.8,446.0 L775.8,447.7 L776.8,449.4 L777.8,451.2 L778.8,452.9 L779.8,454.6 L780.8,456.4 L781.8,458.1 L782.8,459.8 L783.8,461.5 L784.8,463.3 L785.8,465.0 L786.8,466.7 L787.8,468.5 L788.8,470.2 L789.8,471.9 L790.9,473.6 L791.9,475.4 L792.9,477.1 L793.9,478.8 L794.9,480.5 L795.9,482.3 L796.9,484.0 L797.9,485.7 L799.0,487.4 L800.0,489.1 L801.0,490.9 L802.0,492.6 L803.0,494.3 L804.0,496.0 L805.1,497.8 L806.1,499.5 L807.1,501.2 L808.1,502.9 L809.1,504.6 L810.2,506.3 L811.2,508.1 L812.2,509.8 L813.2,511.5 L814.3,513.2 L815.3,514.9 L816.3,516.6 L817.3,518.4 L818.4,520.1 L819.4,521.8 L820.4,523.5 L821.5,525.2 L822.5,526.9 L823.5,528.6 L824.6,530.3 L825.6,532.1 L826.6,533.8 L827.7,535.5 L828.7,537.2 L829.8,538.9 L830.8,540.6 L831.8,542.3 L832.9,544.0 L833.9,545.7 L835.0,547.4 L836.0,549.1 L837.0,550.8 L838.1,552.5 L839.1,554.2 L840.2,555.9 L841.2,557.6 L842.3,559.3 L843.3,561.0 L844.4,562.7 L845.4,564.4 L846.5,566.1 L847.5,567.8 L848.6,569.5 L849.6,571.2 L850.7,572.9 L851.8,574.6 L852.8,576.3 L853.9,578.0 L854.9,579.7 L856.0,581.4 L857.0,583.1 L858.1,584.8 L859.2,586.5 L860.2,588.2 L861.3,589.9 L862.4,591.6 L863.4,593.3 L864.5,595.0 L865.6,596.7 L866.6,598.3 L867.7,600.0 L868.8,601.7 L869.8,603.4 L870.9,605.1 L872.0,606.8 L873.1,608.5 L874.1,610.2 L875.2,611.8 L876.3,613.5 L877.4,615.2 L878.4,616.9 L879.5,618.6 L880.6,620.3 L881.7,621.9 L882.8,623.6 L883.8,625.3 L884.9,627.0 L886.0,628.7 L887.1,630.3 L888.2,632.0 L889.3,633.7 L890.4,635.4 L891.4,637.1 L892.5,638.7 L893.6,640.4 L894.7,642.1 L895.8,643.8 L896.9,645.4 L898.0,647.1 L899.1,648.8 L900.2,650.5 L901.3,652.1 L902.4,653.8 L903.5,655.5 L904.6,657.1 L905.7,658.8 L906.8,660.5 L907.9,662.1 L909.0,663.8 L910.1,665.5 L911.2,667.1 L912.3,668.8 L913.4,670.5 L914.5,672.1 L915.6,673.8 L916.7,675.5 L917.8,677.1 L919.0,678.8 L920.1,680.4 L921.2,682.1 L922.3,683.8 L923.4,685.4 L924.5,687.1 L925.7,688.7 L926.8,690.4 L927.9,692.0 L929.0,693.7 L930.2,695.3 L931.3,697.0 L932.4,698.6 L933.5,700.3 L934.7,701.9 L935.8,703.6 L936.9,705.2 L938.1,706.9 L939.2,708.5 L940.4,710.2 L941.5,711.8 L942.6,713.4 L943.8,715.1 L944.9,716.7 L946.1,718.4 L947.2,720.0 L948.4,721.6 L949.5,723.3 L950.7,724.9 L951.9,726.5 L953.0,728.1 L954.2,729.8 L955.3,731.4 L956.5,733.0 L957.7,734.6 L958.8,736.3 L960.0,737.9 L961.2,739.5 L962.4,741.1 L963.5,742.7 L964.7,744.4 L965.9,746.0 L967.1,747.6 L968.3,749.2 L969.4,750.8 L970.6,752.4 L971.8,754.0 L973.0,755.6 L974.2,757.2 L975.4,758.8 L976.6,760.4 L977.8,762.0 L979.0,763.6 L980.2,765.2 L981.4,766.8 L982.7,768.4 L983.9,770.0 L985.1,771.6 L986.3,773.1 L987.5,774.7 L988.7,776.3 L990.0,777.9 L991.2,779.5 L992.4,781.0 L993.7,782.6 L994.9,784.2 L996.1,785.7 L997.4,787.3 L998.6,788.9 L999.9,790.4 L1001.1,792.0 L1002.4,793.6 L1003.6,795.1 L1004.9,796.7 L1006.2,798.2 L1007.4,799.8 L1008.7,801.3 L1010.0,802.9 L1011.2,804.4 L1012.5,805.9 L1013.8,807.5 L1015.1,809.0 L1016.3,810.5 L1017.6,812.1 L1018.9,813.6 L1020.2,815.1 L1021.5,816.7 L1022.8,818.2 L1024.1,819.7 L1025.4,821.2 L1026.7,822.7 L1028.0,824.2 L1029.3,825.7 L1030.7,827.2 L1032.0,828.7 L1033.3,830.2 L1034.6,831.7 L1035.9,833.2 L1037.3,834.7 L1038.6,836.2 L1040.0,837.7 L1041.3,839.2 L1042.6,840.7 L1044.0,842.1 L1045.3,843.6 L1046.7,845.1 L1048.1,846.5 L1049.4,848.0 L1050.8,849.5 L1052.1,850.9 L1053.5,852.4 L1054.9,853.8 L1056.3,855.3 L1057.7,856.7 L1059.0,858.2 L1060.4,859.6 L1061.8,861.0 L1063.2,862.5 L1064.6,863.9 L1066.0,865.3 L1067.4,866.7 L1068.8,868.2 L1070.2,869.6 L1071.7,871.0 L1073.1,872.4 L1074.5,873.8 L1075.9,875.2 L1077.4,876.6 L1078.8,878.0 L1080.2,879.4 L1081.7,880.7 L1083.1,882.1 L1084.6,883.5 L1086.0,884.9 L1087.5,886.2 L1089.0,887.6 L1090.4,889.0 L1091.9,890.3 L1093.4,891.7 L1094.8,893.0 L1096.3,894.4 L1097.8,895.7 L1099.3,897.0 L1100.8,898.4 L1102.3,899.7 L1103.8,901.0 L1105.3,902.3 L1106.8,903.6 L1108.3,905.0 L1109.8,906.3 L1111.3,907.6 L1112.9,908.9 L1114.4,910.1 L1115.9,911.4 L1117.5,912.7 L1119.0,914.0 L1120.5,915.3 L1122.1,916.5 L1123.6,917.8 L1125.2,919.0 L1126.8,920.3 L1128.3,921.5 L1129.9,922.8 L1131.4,924.0 L1133.0,925.3 L1134.6,926.5 L1136.2,927.7 L1137.8,928.9 L1139.3,930.2 L1140.9,931.4 L1142.5,932.6 L1144.1,933.8 L1145.7,935.0 L1147.3,936.2 L1148.9,937.4 L1150.5,938.5 L1152.2,939.7 L1153.8,940.9 L1155.4,942.1 L1157.0,943.2 L1158.6,944.4 L1160.3,945.6 L1161.9,946.7 L1163.5,947.9 L1165.2,949.0 L1166.8,950.1 L1168.5,951.3 L1170.1,952.4 L1171.8,953.5 L1173.4,954.7 L1175.1,955.8 L1176.7,956.9 L1178.4,958.0 L1180.1,959.1 L1181.7,960.2 L1183.4,961.3 L1185.1,962.4 L1186.8,963.5 L1188.5,964.5 L1190.1,965.6 L1191.8,966.7 L1193.5,967.8 L1195.2,968.8 L1196.9,969.9 L1198.6,970.9 L1200.3,972.0 L1202.0,973.0 L1203.7,974.1 L1205.4,975.1 L1207.1,976.1 L1208.9,977.2 L1210.6,978.2 L1212.3,979.2 L1214.0,980.2 L1215.7,981.2 L1217.5,982.2 L1219.2,983.2 L1220.9,984.2 L1222.7,985.2 L1224.4,986.2 L1226.1,987.2 L1227.9,988.2 L1229.6,989.2 L1231.4,990.1 L1233.1,991.1 L1234.9,992.1 L1236.6,993.0 L1238.4,994.0 L1240.2,994.9 L1241.9,995.9 L1243.7,996.8 L1245.4,997.7 L1247.2,998.7 L1249.0,999.6 L1250.8,1000.5 L1252.5,1001.4 L1254.3,1002.4 L1256.1,1003.3 L1257.9,1004.2 L1259.7,1005.1 L1261.4,1006.0 L1263.2,1006.9 L1265.0,1007.8 L1266.8,1008.7 L1268.6,1009.5 L1270.4,1010.4 L1272.2,1011.3 L1274.0,1012.2 L1275.8,1013.0 L1277.6,1013.9 L1279.4,1014.8 L1281.2,1015.6 L1283.0,1016.5 L1284.8,1017.3 L1286.6,1018.1 L1288.5,1019.0 L1290.3,1019.8 L1292.1,1020.6 L1293.9,1021.5 L1295.7,1022.3 L1297.6,1023.1 L1299.4,1023.9 L1301.2,1024.7 L1303.0,1025.5 L1304.9,1026.3 L1306.7,1027.1 L1308.5,1027.9 L1310.4,1028.7 L1312.2,1029.5 L1314.1,1030.3 L1315.9,1031.1 L1317.7,1031.8 L1319.6,1032.6 L1321.4,1033.4 L1323.3,1034.1 L1325.1,1034.9 L1327.0,1035.7 L1328.8,1036.4 L1330.7,1037.2 L1332.5,1037.9 L1334.4,1038.6 L1336.3,1039.4 L1338.1,1040.1 L1340.0,1040.8 L1341.8,1041.6 L1343.7,1042.3 L1345.6,1043.0 L1347.4,1043.7 L1349.3,1044.4 L1351.2,1045.1 L1353.1,1045.8 L1354.9,1046.5 L1356.8,1047.2 L1358.7,1047.9 L1360.6,1048.6 L1362.4,1049.3 L1364.3,1050.0 L1366.2,1050.6 L1368.1,1051.3 L1370.0,1052.0 L1371.8,1052.7 L1373.7,1053.3 L1375.6,1054.0 L1377.5,1054.6 L1379.4,1055.3 L1381.3,1055.9 L1383.2,1056.6 L1385.1,1057.2 L1387.0,1057.9 L1388.9,1058.5 L1390.8,1059.1 L1392.7,1059.7 L1394.6,1060.4 L1396.5,1061.0 L1398.4,1061.6 L1400.3,1062.2 L1402.2,1062.8 L1404.1,1063.4 L1406.0,1064.0 L1407.9,1064.6 L1409.8,1065.2 L1411.7,1065.8 L1413.6,1066.4 L1415.5,1067.0 L1417.4,1067.6 L1419.4,1068.2 L1421.3,1068.7 L1423.2,1069.3 L1425.1,1069.9 L1427.0,1070.4 L1428.9,1071.0 L1430.9,1071.6 L1432.8,1072.1 L1434.7,1072.7 L1436.6,1073.2 L1438.5,1073.8 L1440.5,1074.3 L1442.4,1074.8 L1444.3,1075.4 L1446.2,1075.9 L1448.2,1076.4 L1450.1,1077.0 L1452.0,1077.5 L1454.0,1078.0 L1455.9,1078.5 L1457.8,1079.0 L1459.8,1079.5 L1461.7,1080.0 L1463.6,1080.5 L1465.6,1081.0 L1467.5,1081.5 L1469.4,1082.0 L1471.4,1082.5 L1473.3,1083.0 L1475.3,1083.5 L1477.2,1084.0 L1479.1,1084.5 L1481.1,1084.9 L1483.0,1085.4 L1485.0,1085.9 L1486.9,1086.3 L1488.9,1086.8 L1490.8,1087.3 L1492.7,1087.7 L1494.7,1088.2 L1496.6,1088.6 L1498.6,1089.1 L1500.5,1089.5 L1502.5,1090.0 L1504.4,1090.4 L1506.4,1090.8 L1508.3,1091.3 L1510.3,1091.7 L1512.2,1092.1 L1514.2,1092.5 L1516.2,1093.0 L1518.1,1093.4 L1520.1,1093.8 L1522.0,1094.2 L1524.0,1094.6 L1525.9,1095.0 L1527.9,1095.4 L1529.9,1095.8 L1531.8,1096.2 L1533.8,1096.6 L1535.7,1097.0 L1537.7,1097.4 L1539.7,1097.8 L1541.6,1098.1 L1543.6,1098.5 L1545.5,1098.9 L1547.5,1099.3 L1549.5,1099.6 L1551.4,1100.0 L1553.4,1100.4 L1555.4,1100.7 L1557.3,1101.1 L1559.3,1101.5 L1561.3,1101.8 L1563.2,1102.2 L1565.2,1102.5 L1567.2,1102.8 L1569.2,1103.2 L1571.1,1103.5 L1573.1,1103.9 L1575.1,1104.2 L1577.0,1104.5 L1579.0,1104.9 L1581.0,1105.2 L1583.0,1105.5 L1584.9,1105.8 L1586.9,1106.1 L1588.9,1106.5 L1590.8,1106.8 L1592.8,1107.1 L1594.8,1107.4 L1596.8,1107.7 L1598.8,1108.0 L1600.7,1108.3 L1602.7,1108.6 L1604.7,1108.9 L1606.7,1109.2 L1608.6,1109.5 L1610.6,1109.7 L1612.6,1110.0 L1614.6,1110.3 L1616.6,1110.6 L1618.5,1110.8 L1620.5,1111.1 L1622.5,1111.4 L1624.5,1111.7 L1626.5,1111.9 L1628.4,1112.2 L1630.4,1112.4 L1632.4,1112.7 L1634.4,1112.9 L1636.4,1113.2 L1638.4,1113.4 L1640.3,1113.7 L1642.3,1113.9 L1644.3,1114.2 L1646.3,1114.4" fill="none" stroke="#f00" stroke-width="7" stroke-linejoin="round"/>
<rect x="239" y="43" width="5" height="1137" fill="#000"/>
<rect x="1644" y="43" width="5" height="1137" fill="#000"/>
<rect x="219" y="43" width="1430" height="6" fill="#000"/>
<rect x="219" y="1174" width="1430" height="6" fill="#000"/>
<rect x="230" y="1080.2" width="11" height="5" fill="#000"/>
<rect x="219" y="986.0" width="22" height="5" fill="#000"/>
<rect x="230" y="891.8" width="11" height="5" fill="#000"/>
<rect x="219" y="797.5" width="22" height="5" fill="#000"/>
<rect x="230" y="703.2" width="11" height="5" fill="#000"/>
<rect x="219" y="609.0" width="22" height="5" fill="#000"/>
<rect x="230" y="514.7" width="11" height="5" fill="#000"/>
<rect x="219" y="420.5" width="22" height="5" fill="#000"/>
<rect x="230" y="326.2" width="11" height="5" fill="#000"/>
<rect x="219" y="232.0" width="22" height="5" fill="#000"/>
<rect x="230" y="137.7" width="11" height="5" fill="#000"/>
<rect x="321.7" y="1178" width="5" height="22" fill="#000"/>
<rect x="487.0" y="1178" width="5" height="10" fill="#000"/>
<rect x="652.3" y="1178" width="5" height="22" fill="#000"/>
<rect x="817.5" y="1178" width="5" height="10" fill="#000"/>
<rect x="982.8" y="1178" width="5" height="22" fill="#000"/>
<rect x="1148.1" y="1178" width="5" height="10" fill="#000"/>
<rect x="1313.4" y="1178" width="5" height="22" fill="#000"/>
<rect x="1478.6" y="1178" width="5" height="10" fill="#000"/>
<rect x="1643.9" y="1178" width="5" height="22" fill="#000"/>
<text transform="translate(204.0,1190.6) scale(1.0000,1.0250)" font-family="'Liberation Sans', Arial, Helvetica, sans-serif" font-style="normal" font-size="48.5" text-anchor="end" >0.0</text>
<text transform="translate(204.0,1002.1) scale(1.0000,1.0250)" font-family="'Liberation Sans', Arial, Helvetica, sans-serif" font-style="normal" font-size="48.5" text-anchor="end" >0.2</text>
<text transform="translate(204.0,813.6) scale(1.0000,1.0250)" font-family="'Liberation Sans', Arial, Helvetica, sans-serif" font-style="normal" font-size="48.5" text-anchor="end" >0.4</text>
<text transform="translate(204.0,625.1) scale(1.0000,1.0250)" font-family="'Liberation Sans', Arial, Helvetica, sans-serif" font-style="normal" font-size="48.5" text-anchor="end" >0.6</text>
<text transform="translate(204.0,436.6) scale(1.0000,1.0250)" font-family="'Liberation Sans', Arial, Helvetica, sans-serif" font-style="normal" font-size="48.5" text-anchor="end" >0.8</text>
<text transform="translate(204.0,248.1) scale(1.0000,1.0250)" font-family="'Liberation Sans', Arial, Helvetica, sans-serif" font-style="normal" font-size="48.5" text-anchor="end" >1.0</text>
<text transform="translate(204.0,59.6) scale(1.0000,1.0250)" font-family="'Liberation Sans', Arial, Helvetica, sans-serif" font-style="normal" font-size="48.5" text-anchor="end" >1.2</text>
<text transform="translate(324.7,1251.5) scale(1.0000,1.0250)" font-family="'Liberation Sans', Arial, Helvetica, sans-serif" font-style="normal" font-size="48.5" text-anchor="middle" >400</text>
<text transform="translate(655.3,1251.5) scale(1.0000,1.0250)" font-family="'Liberation Sans', Arial, Helvetica, sans-serif" font-style="normal" font-size="48.5" text-anchor="middle" >600</text>
<text transform="translate(985.8,1251.5) scale(1.0000,1.0250)" font-family="'Liberation Sans', Arial, Helvetica, sans-serif" font-style="normal" font-size="48.5" text-anchor="middle" >800</text>
<text transform="translate(1316.4,1251.5) scale(1.0000,1.0250)" font-family="'Liberation Sans', Arial, Helvetica, sans-serif" font-style="normal" font-size="48.5" text-anchor="middle" >1000</text>
<text transform="translate(1646.9,1251.5) scale(1.0000,1.0250)" font-family="'Liberation Sans', Arial, Helvetica, sans-serif" font-style="normal" font-size="48.5" text-anchor="middle" >1200</text>
<text transform="translate(942.5,1342.0) scale(1.0000,1.0100)" font-family="'Liberation Sans', Arial, Helvetica, sans-serif" font-style="normal" font-size="59" text-anchor="middle" >Wavelength (nm)</text>
<text transform="translate(71.0,587.5) rotate(-90) scale(1.0120,1.0300)" font-family="'Liberation Sans', Arial, Helvetica, sans-serif" font-style="normal" font-size="58.3" text-anchor="middle" >Normalized absorption (a.u.)</text>
<line x1="718" y1="992.5" x2="850" y2="992.5" stroke="#00f" stroke-width="7" stroke-linecap="round"/>
<line x1="718" y1="1079.5" x2="850" y2="1079.5" stroke="#f00" stroke-width="7" stroke-linecap="round"/>
<text transform="translate(866.0,1012.0) scale(1.0000,1.0500)" font-family="'Liberation Sans', Arial, Helvetica, sans-serif" font-style="normal" font-size="58" text-anchor="start" >E</text>
<text transform="translate(961.0,1012.0) scale(1.0000,1.0500)" font-family="'Liberation Sans', Arial, Helvetica, sans-serif" font-style="normal" font-size="58" text-anchor="start" >x</text>
<text transform="translate(866.0,1100.0) scale(1.0000,1.0500)" font-family="'Liberation Sans', Arial, Helvetica, sans-serif" font-style="normal" font-size="58" text-anchor="start" >E</text>
<text transform="translate(973.0,1100.0) scale(1.0000,1.0500)" font-family="'Liberation Sans', Arial, Helvetica, sans-serif" font-style="normal" font-size="58" text-anchor="start" >x</text>
<text transform="translate(932.5,1003.8) scale(1.0000,0.7500)" font-family="'DejaVu Sans', sans-serif" font-style="normal" font-size="58" text-anchor="middle" >&#8741;</text>
<text transform="translate(939.0,1100.0) scale(0.8000,1.0300)" font-family="'DejaVu Sans', sans-serif" font-style="normal" font-size="58" text-anchor="middle" font-weight="bold">&#8869;</text>
<line x1="480" y1="219.5" x2="492.3" y2="252.5" stroke="#000" stroke-width="4.5"/>
<line x1="636.4" y1="249.4" x2="623.8" y2="283.5" stroke="#000" stroke-width="4.5"/>
<line x1="586.2" y1="825" x2="598.3" y2="859.4" stroke="#000" stroke-width="4.5"/>
<line x1="1257.7" y1="210.6" x2="1245.3" y2="246" stroke="#000" stroke-width="4.5"/>
<defs><filter id="sb" x="-30%" y="-30%" width="160%" height="160%"><feGaussianBlur stdDeviation="1.6"/></filter><filter id="sb2" x="-30%" y="-30%" width="160%" height="160%"><feGaussianBlur stdDeviation="2.6"/></filter></defs>
<defs><clipPath id="cp1"><path d="M312.6,93.5 Q312.5,86.5 319.1,84.2 L363.8,68.3 Q370.4,66.0 377.2,67.8 L495.7,99.2 Q502.5,101.0 502.2,108.0 L499.6,180.7 Q499.3,187.7 493.2,191.1 L449.6,215.0 Q443.5,218.4 436.9,216.0 L320.1,172.3 Q313.5,169.9 313.4,162.9 Z"/></clipPath></defs>
<g clip-path="url(#cp1)">
<defs><linearGradient id="lg2" gradientUnits="userSpaceOnUse" x1="379.1" y1="105.2" x2="388.9" y2="70.2"><stop offset="0" stop-color="#ff0000"/><stop offset="0.5" stop-color="#ff0000"/><stop offset="0.58" stop-color="#f0d0ff"/><stop offset="0.64" stop-color="#8080ff"/><stop offset="0.7" stop-color="#0000ff"/><stop offset="1" stop-color="#0000ff"/></linearGradient></defs>
<polygon points="312.5,86.5 445.7,123.9 502.5,101.0 370.4,66.0" fill="url(#lg2)"/>
<defs><linearGradient id="lg3" gradientUnits="userSpaceOnUse" x1="379.1" y1="105.2" x2="355.9" y2="187.8"><stop offset="0" stop-color="#ff0000"/><stop offset="0.38" stop-color="#ff0000"/><stop offset="0.43" stop-color="#ffd8d8"/><stop offset="0.46" stop-color="#e8e8ff"/><stop offset="0.52" stop-color="#0000ff"/><stop offset="1" stop-color="#0000ff"/></linearGradient></defs>
<polygon points="312.5,86.5 445.7,123.9 443.5,218.4 313.5,169.9" fill="url(#lg3)"/>
<polygon points="339.4,145.4 441.9,175.0 440.9,215.5 339.5,177.9" fill="url(#spB)" opacity="0.35"/>
<polygon points="445.7,123.9 502.5,101.0 499.3,187.7 443.5,218.4" fill="#ff0000"/>
<path d="M474.1,112.5 L502.5,101.0 L501.1,140.0 L492.3,152.8 L480.9,164.5 L473.3,177.1 L472.8,157.8 Z" fill="#0000ff" />
<path d="M444.1,191.9 L458.2,183.0 L469.2,184.6 L477.0,200.0 L443.5,218.4 Z" fill="#0000ff" />
<path d="M474.0,117.0 L472.8,157.8 L473.3,177.1 L480.8,166.3 L492.2,154.5 L501.0,141.7" fill="none" stroke="#ffffff" stroke-width="3" stroke-linejoin="round" stroke-linecap="round" filter="url(#sb)" opacity="0.9"/>
<path d="M447.0,188.6 L461.0,179.7 L471.0,180.1 L477.0,198.2" fill="none" stroke="#ffffff" stroke-width="3" stroke-linejoin="round" stroke-linecap="round" filter="url(#sb)" opacity="0.8"/>
</g>
<path d="M312.6,93.5 Q312.5,86.5 319.1,84.2 L363.8,68.3 Q370.4,66.0 377.2,67.8 L495.7,99.2 Q502.5,101.0 502.2,108.0 L499.6,180.7 Q499.3,187.7 493.2,191.1 L449.6,215.0 Q443.5,218.4 436.9,216.0 L320.1,172.3 Q313.5,169.9 313.4,162.9 Z" fill="none" stroke="#00f" stroke-width="1.8"/>
<polyline clip-path="url(#cp1)" points="312.5,86.5 445.7,123.9 502.5,101" fill="none" stroke="#00f" stroke-width="1.3"/>
<line clip-path="url(#cp1)" x1="445.7" y1="123.9" x2="443.5" y2="218.4" stroke="#f00" stroke-width="1.5"/>
<defs><clipPath id="cp4"><path d="M591.7,138.5 Q591.5,131.5 598.1,129.2 L646.6,112.2 Q653.2,109.9 659.9,111.8 L774.8,144.1 Q781.5,146.0 781.2,153.0 L778.7,224.4 Q778.4,231.4 772.2,234.6 L727.6,258.0 Q721.4,261.2 714.8,258.8 L600.2,216.5 Q593.6,214.1 593.4,207.1 Z"/></clipPath></defs>
<g clip-path="url(#cp4)">
<defs><linearGradient id="lg5" gradientUnits="userSpaceOnUse" x1="658.3" y1="150.4" x2="668.6" y2="114.1"><stop offset="0" stop-color="#0000ff"/><stop offset="0.2" stop-color="#2020ff"/><stop offset="0.42" stop-color="#d8d8ff"/><stop offset="0.52" stop-color="#ffffff"/><stop offset="0.7" stop-color="#ff9090"/><stop offset="0.85" stop-color="#ff0000"/><stop offset="1" stop-color="#ff0000"/></linearGradient></defs>
<polygon points="591.5,131.5 725.1,169.4 781.5,146.0 653.2,109.9" fill="url(#lg5)"/>
<polygon points="591.5,131.5 725.1,169.4 721.4,261.2 593.6,214.1" fill="#0000ff"/>
<polygon points="621.0,150.0 720.4,186.6 717.7,257.0 631.9,215.4" fill="url(#spB3)" opacity="0.8"/>
<defs><linearGradient id="lg6" gradientUnits="userSpaceOnUse" x1="723.2" y1="215.3" x2="778.8" y2="217.5"><stop offset="0" stop-color="#0000ff"/><stop offset="0.25" stop-color="#2828ff"/><stop offset="0.45" stop-color="#c8c8ff"/><stop offset="0.55" stop-color="#ffffff"/><stop offset="0.68" stop-color="#ff8080"/><stop offset="0.8" stop-color="#ff0000"/><stop offset="1" stop-color="#ff0000"/></linearGradient></defs>
<polygon points="725.1,169.4 781.5,146.0 778.4,231.4 721.4,261.2" fill="url(#lg6)"/>
</g>
<path d="M591.7,138.5 Q591.5,131.5 598.1,129.2 L646.6,112.2 Q653.2,109.9 659.9,111.8 L774.8,144.1 Q781.5,146.0 781.2,153.0 L778.7,224.4 Q778.4,231.4 772.2,234.6 L727.6,258.0 Q721.4,261.2 714.8,258.8 L600.2,216.5 Q593.6,214.1 593.4,207.1 Z" fill="none" stroke="#00f" stroke-width="1.8"/>
<polyline clip-path="url(#cp4)" points="591.5,131.5 725.1,169.4 781.5,146" fill="none" stroke="#f00" stroke-width="2"/>
<line clip-path="url(#cp4)" x1="725.1" y1="169.4" x2="721.4" y2="261.2" stroke="#f00" stroke-width="1.2"/>
<defs><clipPath id="cp7"><path d="M1186.7,94.5 Q1186.6,87.5 1193.3,85.3 L1238.6,70.6 Q1245.3,68.4 1252.1,70.2 L1366.2,100.4 Q1373.0,102.2 1372.9,109.2 L1371.7,176.9 Q1371.6,183.9 1365.6,187.5 L1318.9,216.0 Q1312.9,219.6 1306.4,217.1 L1194.5,174.9 Q1188.0,172.4 1187.9,165.4 Z"/></clipPath></defs>
<g clip-path="url(#cp7)">
<polygon points="1186.6,87.5 1245.3,68.4 1373.0,102.2 1371.6,183.9 1312.9,219.6 1188.0,172.4" fill="#ff0000"/>
<polygon points="1245.8,105.7 1303.7,123.6 1304.1,213.5 1246.7,194.6" fill="url(#spR)" />
<polygon points="1177.4,86.5 1242.8,106.8 1308.3,83.2 1241.8,65.8" fill="#0000ff" />
<polygon points="1180.2,81.3 1246.4,101.5 1247.4,199.3 1181.8,174.3" fill="#0000ff" />
<path d="M1247.0,105.3 L1304.1,84.7" fill="none" stroke="#a0a0ff" stroke-width="2.5" stroke-linejoin="round" stroke-linecap="round" opacity="0.8"/>
<path d="M1246.8,107.8 L1247.7,193.2" fill="none" stroke="#ffffff" stroke-width="1.6" stroke-linejoin="round" stroke-linecap="round" />
<path d="M1247.0,106.6 L1303.7,124.0" fill="none" stroke="#0000ff" stroke-width="1.6" stroke-linejoin="round" stroke-linecap="round" />
<path d="M1303.7,123.6 L1304.1,208.9" fill="none" stroke="#ffd0d0" stroke-width="1.0" stroke-linejoin="round" stroke-linecap="round" opacity="0.7"/>
</g>
<defs><clipPath id="cp8"><path d="M472.6,688.5 Q472.5,681.5 479.1,679.2 L526.6,662.2 Q533.2,659.9 540.0,661.7 L654.7,692.7 Q661.5,694.5 661.2,701.5 L658.7,772.0 Q658.4,779.0 652.3,782.4 L607.5,807.8 Q601.4,811.2 594.8,808.8 L480.2,766.5 Q473.6,764.1 473.5,757.1 Z"/></clipPath></defs>
<g clip-path="url(#cp8)">
<defs><linearGradient id="lg9" gradientUnits="userSpaceOnUse" x1="502.9" y1="670.7" x2="528.6" y2="742.9"><stop offset="0" stop-color="#ff0000"/><stop offset="0.38" stop-color="#ff0000"/><stop offset="0.44" stop-color="#ffc0c0"/><stop offset="0.47" stop-color="#ffffff"/><stop offset="0.52" stop-color="#a0a0ff"/><stop offset="0.58" stop-color="#0000ff"/><stop offset="1" stop-color="#0000ff"/></linearGradient></defs>
<polygon points="472.5,681.5 603.8,717.3 661.5,694.5 533.2,659.9" fill="url(#lg9)"/>
<polygon points="472.5,681.5 603.8,717.3 601.4,811.2 473.6,764.1" fill="#ff0000"/>
<path d="M473.1,722.8 L492.6,739.1 L514.5,761.9 L533.7,786.2 L473.6,764.1 Z" fill="#0000ff" />
<path d="M473.1,722.8 L492.6,739.1 L514.5,761.9 L533.7,786.2" fill="none" stroke="#ffffff" stroke-width="4" stroke-linejoin="round" stroke-linecap="round" filter="url(#sb)" opacity="0.9"/>
<path d="M534.2,698.3 L603.8,717.3 L602.4,773.6 L582.9,772.8 L563.5,766.3 L548.1,755.8 L537.9,739.1 L534.0,724.7 Z" fill="#0000ff" />
<path d="M534.0,724.7 L537.9,739.1 L548.1,755.8 L563.5,766.3 L582.9,772.8 L602.4,773.6" fill="none" stroke="#ffffff" stroke-width="4.5" stroke-linejoin="round" stroke-linecap="round" filter="url(#sb)" opacity="0.9"/>
<path d="M534.9,698.5 L534.3,786.5" fill="none" stroke="#ffffff" stroke-width="1.5" stroke-linejoin="round" stroke-linecap="round" opacity="0.7"/>
<polygon points="603.8,717.3 661.5,694.5 658.4,779.0 601.4,811.2" fill="#ff0000"/>
<path d="M603.8,717.3 L661.5,694.5 L660.2,730.0 L642.9,739.8 L625.6,752.3 L602.6,766.1 Z" fill="#0000ff" />
<path d="M602.6,766.1 L625.6,752.3 L642.9,739.8 L660.2,730.0" fill="none" stroke="#ffffff" stroke-width="3.5" stroke-linejoin="round" stroke-linecap="round" filter="url(#sb)" opacity="0.9"/>
</g>
<path d="M472.6,688.5 Q472.5,681.5 479.1,679.2 L526.6,662.2 Q533.2,659.9 540.0,661.7 L654.7,692.7 Q661.5,694.5 661.2,701.5 L658.7,772.0 Q658.4,779.0 652.3,782.4 L607.5,807.8 Q601.4,811.2 594.8,808.8 L480.2,766.5 Q473.6,764.1 473.5,757.1 Z" fill="none" stroke="#00f" stroke-width="1.8"/>
<polyline clip-path="url(#cp8)" points="472.5,681.5 603.8,717.3 661.5,694.5" fill="none" stroke="#f00" stroke-width="1.3"/>
<line clip-path="url(#cp8)" x1="603.8" y1="717.3" x2="601.4" y2="811.2" stroke="#00f" stroke-width="1.3"/>
<text transform="translate(292.5,256.5)" font-family="'Liberation Serif', 'Times New Roman', serif" font-style="italic" font-size="86" text-anchor="start" >Q</text>
<text transform="translate(351.0,272.8)" font-family="'Liberation Serif', 'Times New Roman', serif" font-style="italic" font-size="54" text-anchor="start" >T</text>
<text transform="translate(800.0,196.7)" font-family="'Liberation Serif', 'Times New Roman', serif" font-style="italic" font-size="83" text-anchor="start" >D</text>
<text transform="translate(860.5,212.8)" font-family="'Liberation Serif', 'Times New Roman', serif" font-style="italic" font-size="54" text-anchor="start" >T</text>
<text transform="translate(1392.2,182.7)" font-family="'Liberation Serif', 'Times New Roman', serif" font-style="italic" font-size="83" text-anchor="start" >D</text>
<text transform="translate(1451.0,198.8)" font-family="'Liberation Serif', 'Times New Roman', serif" font-style="italic" font-size="54" text-anchor="start" >L</text>
<text transform="translate(681.5,743.5)" font-family="'Liberation Serif', 'Times New Roman', serif" font-style="italic" font-size="86" text-anchor="start" >Q</text>
<text transform="translate(740.0,758.7)" font-family="'Liberation Serif', 'Times New Roman', serif" font-style="italic" font-size="54" text-anchor="start" >L</text>
<defs><clipPath id="cp10"><path d="M1822.7,176.0 Q1822.5,160.0 1838.2,157.0 L1960.3,133.5 Q1976.0,130.5 1991.7,133.7 L2261.8,188.8 Q2277.5,192.0 2276.9,208.0 L2270.6,362.0 Q2270.0,378.0 2254.9,383.2 L2135.7,424.3 Q2120.6,429.5 2105.3,424.8 L1840.6,344.2 Q1825.3,339.5 1825.1,323.5 Z"/></clipPath></defs>
<g clip-path="url(#cp10)">
<path d="M1822.7,176.0 Q1822.5,160.0 1838.2,157.0 L1960.3,133.5 Q1976.0,130.5 1991.7,133.7 L2261.8,188.8 Q2277.5,192.0 2276.9,208.0 L2270.6,362.0 Q2270.0,378.0 2254.9,383.2 L2135.7,424.3 Q2120.6,429.5 2105.3,424.8 L1840.6,344.2 Q1825.3,339.5 1825.1,323.5 Z" fill="#434343"/>
<polygon points="1822.2,138.5 2124.2,187.0 2120.4,440.3 1825.4,348.5" fill="#a9a9a9" />
<defs><linearGradient id="lg11" gradientUnits="userSpaceOnUse" x1="1973.2" y1="186.5" x2="1966.4" y2="224.9"><stop offset="0" stop-color="#454545"/><stop offset="0.3" stop-color="#8a8a8a"/><stop offset="0.6" stop-color="#b6b6b6"/><stop offset="0.8" stop-color="#b2b2b2"/><stop offset="1" stop-color="#a9a9a9"/></linearGradient></defs>
<polygon points="1822.2,138.5 2124.2,187.0 2120.4,440.3 1825.4,348.5" fill="url(#lg11)" />
<defs><linearGradient id="lg12" gradientUnits="userSpaceOnUse" x1="1973.0" y1="364.7" x2="1969.6" y2="383.9"><stop offset="0" stop-color="rgba(150,150,150,0)"/><stop offset="1" stop-color="rgba(130,130,130,0.9)"/></linearGradient></defs>
<polygon points="1824.9,312.6 2121.1,397.0 2120.4,440.3 1825.4,348.5" fill="url(#lg12)" />
<defs><linearGradient id="lg13" gradientUnits="userSpaceOnUse" x1="1823.9" y1="249.8" x2="1834.3" y2="249.6"><stop offset="0" stop-color="rgba(120,120,120,0.9)"/><stop offset="1" stop-color="rgba(169,169,169,0)"/></linearGradient></defs>
<polygon points="1816.5,158.9 1837.6,162.7 1840.2,353.1 1819.5,346.6" fill="url(#lg13)" />
<defs><linearGradient id="lg14" gradientUnits="userSpaceOnUse" x1="2092.4" y1="314.1" x2="2122.1" y2="313.6"><stop offset="0" stop-color="rgba(169,169,169,0)"/><stop offset="0.45" stop-color="rgba(185,185,185,0.9)"/><stop offset="1" stop-color="rgba(222,222,222,1)"/></linearGradient></defs>
<polygon points="2087.6,206.6 2123.8,213.0 2120.4,440.3 2085.0,429.3" fill="url(#lg14)" />
<polygon points="2124.2,187.0 2278.4,169.7 2269.6,387.3 2120.4,440.3" fill="#9e9e9e" />
<defs><linearGradient id="lg15" gradientUnits="userSpaceOnUse" x1="2200.7" y1="202.5" x2="2206.0" y2="241.9"><stop offset="0" stop-color="#454545"/><stop offset="0.3" stop-color="#7a7a7a"/><stop offset="0.65" stop-color="#acacac"/><stop offset="1" stop-color="#9e9e9e"/></linearGradient></defs>
<polygon points="2124.2,187.0 2278.4,169.7 2269.6,387.3 2120.4,440.3" fill="url(#lg15)" />
<defs><linearGradient id="lg16" gradientUnits="userSpaceOnUse" x1="2122.2" y1="321.2" x2="2146.4" y2="321.6"><stop offset="0" stop-color="rgba(232,232,232,1)"/><stop offset="0.35" stop-color="rgba(215,215,215,0.95)"/><stop offset="0.75" stop-color="rgba(175,175,175,0.6)"/><stop offset="1" stop-color="rgba(158,158,158,0)"/></linearGradient></defs>
<polygon points="2123.8,213.0 2154.5,208.8 2150.3,429.7 2120.4,440.3" fill="url(#lg16)" />
<defs><linearGradient id="lg17" gradientUnits="userSpaceOnUse" x1="2258.6" y1="288.6" x2="2273.7" y2="288.8"><stop offset="0" stop-color="rgba(158,158,158,0)"/><stop offset="0.6" stop-color="rgba(120,120,120,0.7)"/><stop offset="1" stop-color="rgba(60,60,60,1)"/></linearGradient></defs>
<polygon points="2259.8,175.6 2286.0,172.5 2277.1,384.6 2251.7,393.7" fill="url(#lg17)" />
<defs><linearGradient id="lg18" gradientUnits="userSpaceOnUse" x1="2195.8" y1="383.6" x2="2198.5" y2="403.3"><stop offset="0" stop-color="rgba(158,158,158,0)"/><stop offset="1" stop-color="rgba(110,110,110,0.9)"/></linearGradient></defs>
<polygon points="2136.1,392.3 2271.1,350.1 2269.6,387.3 2135.4,435.0" fill="url(#lg18)" />
<line x1="2123.8" y1="213" x2="2120.6" y2="429.5" stroke="#e2e2e2" stroke-width="2.5"/>
<polygon points="1822.5,160.0 2123.8,213.0 2277.5,192.0 1976.0,130.5" fill="#434343"/>
<ellipse cx="2124" cy="231" rx="8" ry="9" fill="#f0f0f0" filter="url(#sb2)"/>
</g>
<path d="M1822.7,176.0 Q1822.5,160.0 1838.2,157.0 L1960.3,133.5 Q1976.0,130.5 1991.7,133.7 L2261.8,188.8 Q2277.5,192.0 2276.9,208.0 L2270.6,362.0 Q2270.0,378.0 2254.9,383.2 L2135.7,424.3 Q2120.6,429.5 2105.3,424.8 L1840.6,344.2 Q1825.3,339.5 1825.1,323.5 Z" fill="none" stroke="#303030" stroke-width="1.2"/>
<text transform="translate(2081.0,126.0) scale(1.1200,1.0000)" font-family="'Liberation Serif', 'Times New Roman', serif" font-style="italic" font-size="102" text-anchor="start" >l</text>
<text transform="translate(2304.0,304.5) scale(1.0500,1.0000)" font-family="'Liberation Serif', 'Times New Roman', serif" font-style="italic" font-size="102" text-anchor="start" >a</text>
<text transform="translate(2179.0,476.5) scale(1.0500,1.0000)" font-family="'Liberation Serif', 'Times New Roman', serif" font-style="italic" font-size="102" text-anchor="start" >a</text>
<rect x="2040.3" y="590" width="9.7" height="140" fill="#000"/>
<polygon points="2045,532.4 2067,607.5 2050,593 2040.3,593 2023,607.5" fill="#000"/>
<polygon points="1931.0,691.4 1976.8,720.3 1969.8,708.4 2106.1,747.9 2093.9,754.2 2148.0,754.3 2102.2,725.4 2109.2,737.3 1972.9,697.8 1985.1,691.5" fill="#0000ff"/>
<polygon points="1929.0,750.6 1983.1,752.3 1971.1,745.6 2106.7,711.1 2099.3,722.8 2146.0,695.4 2091.9,693.7 2103.9,700.4 1968.3,734.9 1975.7,723.2" fill="#ff0000"/>
<rect x="2040.3" y="600" width="9.7" height="130" fill="#000"/>
<text transform="translate(1941.0,584.5)" font-family="'Liberation Serif', 'Times New Roman', serif" font-style="italic" font-size="83" text-anchor="start" >k</text>
<text transform="translate(2185.0,748.8)" font-family="'Liberation Serif', 'Times New Roman', serif" font-style="italic" font-size="83" text-anchor="start" >E</text>
<line x1="1889.6" y1="1108.6" x2="1889.6" y2="880.0" stroke="#000" stroke-width="5" stroke-linecap="round"/>
<polygon points="1889.6,852.0 1900.1,886.0 1889.6,880.0 1879.1,886.0" fill="#000"/>
<line x1="1889.6" y1="1108.6" x2="2138.0" y2="1026.0" stroke="#000" stroke-width="4.6" stroke-linecap="round"/>
<polygon points="2164.6,1017.2 2135.6,1037.9 2138.0,1026.0 2129.0,1018.0" fill="#000"/>
<line x1="1889.6" y1="1108.6" x2="2155.2" y2="1188.3" stroke="#000" stroke-width="4.6" stroke-linecap="round"/>
<polygon points="2182.0,1196.4 2146.4,1196.7 2155.2,1188.3 2152.5,1176.6" fill="#000"/>
<text transform="translate(1873.0,824.8)" font-family="'Liberation Sans', Arial, Helvetica, sans-serif" font-style="normal" font-size="75" text-anchor="start" >z</text>
<text transform="translate(2180.0,989.5)" font-family="'Liberation Sans', Arial, Helvetica, sans-serif" font-style="normal" font-size="75" text-anchor="start" >y</text>
<text transform="translate(2210.0,1257.0)" font-family="'Liberation Sans', Arial, Helvetica, sans-serif" font-style="normal" font-size="75" text-anchor="start" >x</text>
</svg>
</body></html>
